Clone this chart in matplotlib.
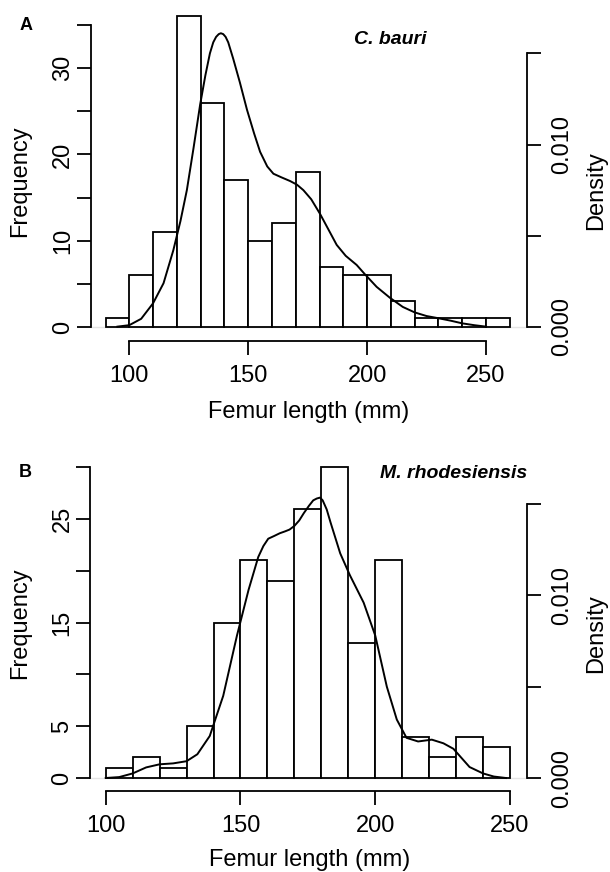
import numpy as np
import matplotlib.pyplot as plt

plt.rcParams['font.family'] = ['Liberation Sans', 'DejaVu Sans']

# histogram data (bin edges in mm, counts)
edges_a = [90, 100, 110, 120, 130, 140, 150, 160, 170, 180, 190, 200, 210, 220, 230, 240, 250, 260]
counts_a = [1, 6, 11, 36, 26, 17, 10, 12, 18, 7, 6, 6, 3, 1, 1, 1, 1]

edges_b = [100, 110, 120, 130, 140, 150, 160, 170, 180, 190, 200, 210, 220, 230, 240, 250]
counts_b = [1, 2, 1, 5, 15, 21, 19, 26, 30, 13, 21, 4, 2, 4, 3]

# kernel density curves
dens_x_a = [95, 100, 105, 110, 114.4, 118.5, 121.5, 124.2, 127, 129.8, 132, 133.9, 135.3, 136.5,
            137.6, 138.5, 139.5, 140.5, 141.6, 143.7, 146.5, 149.5, 152.5, 155, 158, 160.6, 164,
            167.6, 170.5, 173.2, 176.5, 180.2, 183.5, 187.2, 191, 195.6, 199, 204, 209.6, 215,
            220, 225, 230, 235, 240, 245, 250]
dens_y_a = [0.00002, 0.0001, 0.00045, 0.0013, 0.0024, 0.0042, 0.0058, 0.0075, 0.0098, 0.0122,
            0.0138, 0.0150, 0.0156, 0.0159, 0.01605, 0.0161, 0.01605, 0.0159, 0.0156, 0.0147,
            0.0134, 0.0119, 0.0106, 0.0096, 0.0088, 0.0084, 0.0082, 0.0080, 0.0078, 0.0075,
            0.0070, 0.0062, 0.0054, 0.0045, 0.0039, 0.0034, 0.0029, 0.0022, 0.0016, 0.0011,
            0.0008, 0.0006, 0.00048, 0.00035, 0.0002, 0.0001, 0.00002]

dens_x_b = [100, 105, 110, 115, 120, 125, 130, 134, 138.6, 143.6, 148.7, 153, 156.6, 158.5, 160.3,
            162.5, 164.6, 166.5, 168.2, 170, 171.8, 173.5, 175.4, 177, 178.3, 179.5, 180.5, 182,
            183.4, 187, 190.6, 195.7, 200, 204.3, 208, 211.6, 215.9, 221, 225.3, 229, 232, 235,
            240, 244, 248.5]
dens_y_b = [0.0, 0.00005, 0.00025, 0.00058, 0.00075, 0.0008, 0.00092, 0.0013, 0.0023, 0.0045,
            0.0078, 0.0103, 0.0121, 0.0127, 0.0131, 0.01325, 0.0134, 0.0135, 0.0136, 0.0138,
            0.0141, 0.0145, 0.0149, 0.0152, 0.0153, 0.01535, 0.0152, 0.0147, 0.0140, 0.0123,
            0.0111, 0.0096, 0.0078, 0.0050, 0.0032, 0.0022, 0.0020, 0.0021, 0.0019, 0.0016,
            0.0011, 0.0006, 0.00025, 0.00008, 0.0]

xticks = [100, 150, 200, 250]
dticks = [0, 0.005, 0.010, 0.015]
dlabels = ['0.000', '', '0.010', '']

W, H = 610, 872
fig = plt.figure(figsize=(W / 100, H / 100), dpi=100)


def box(l, r, b, t):
    return [l / W, 1 - b / H, (r - l) / W, (b - t) / H]


def panel(rect, xlim, ylim, dlim, edges, counts, dx, dy, yticks, ylabels):
    ax = fig.add_axes(rect)
    ax.axhline(0, color='#e4e4e4', lw=1, zorder=0)
    ax.bar(edges[:-1], counts, width=np.diff(edges), align='edge',
           facecolor='white', edgecolor='black', linewidth=1.3)
    ax.set_xlim(xlim)
    ax.set_ylim(ylim)
    ax.set_xticks(xticks)
    ax.set_yticks(yticks)
    ax.set_yticklabels(ylabels)
    ax.spines[['top', 'right']].set_visible(False)
    ax.spines['left'].set_bounds(yticks[0], yticks[-1])
    ax.spines['bottom'].set_bounds(100, 250)
    for s in ['left', 'bottom']:
        ax.spines[s].set_linewidth(1.3)
    ax.tick_params(length=10.4, width=1.3, labelsize=17)
    ax.tick_params(axis='x', pad=7)
    ax.tick_params(axis='y', labelrotation=90, pad=1.5)
    for lab in ax.get_yticklabels():
        lab.set_va('center')

    # density curve on its own scale, right-hand axis
    ax2 = ax.twinx()
    ax2.plot(dx, dy, color='black', lw=1.4, solid_joinstyle='round')
    ax2.set_ylim(dlim)
    ax2.set_yticks(dticks)
    ax2.set_yticklabels(dlabels)
    ax2.spines[['top', 'left', 'bottom']].set_visible(False)
    ax2.spines['right'].set_bounds(0, 0.015)
    ax2.spines['right'].set_linewidth(1.3)
    ax2.tick_params(length=10.4, width=1.3, labelsize=17, labelrotation=90, pad=7)
    for lab in ax2.get_yticklabels():
        lab.set_va('center')
    return ax


panel(box(90.7, 526.7, 340.7, 14), (83.77, 267.1), (-1.587, 36.27), (-0.000751, 0.017154),
      edges_a, counts_a, dens_x_a, dens_y_a,
      [0, 5, 10, 15, 20, 25, 30, 35], ['0', '', '10', '', '20', '', '30', ''])
panel(box(90, 527.3, 790.7, 460), (94.17, 256.42), (-1.226, 30.70), (-0.000695, 0.017409),
      edges_b, counts_b, dens_x_b, dens_y_b,
      [0, 5, 10, 15, 20, 25, 30], ['0', '5', '', '15', '', '25', ''])


def txt(x, y, s, **kw):
    fig.text(x / W, 1 - y / H, s, ha='center', va='center', **kw)


txt(26.5, 25, 'A', fontsize=13, fontweight='bold')
txt(25, 472, 'B', fontsize=13, fontweight='bold')
txt(390, 40, 'C. bauri', fontsize=14, fontweight='bold', fontstyle='italic')
txt(454, 473, 'M. rhodesiensis', fontsize=14, fontweight='bold', fontstyle='italic')
txt(309, 412, 'Femur length (mm)', fontsize=17)
txt(310, 860, 'Femur length (mm)', fontsize=17)
txt(20.5, 181, 'Frequency', fontsize=17, rotation=90)
txt(20.5, 623, 'Frequency', fontsize=17, rotation=90)
txt(596, 191, 'Density', fontsize=17, rotation=90)
txt(596, 634, 'Density', fontsize=17, rotation=90)

fig.savefig('out.png', dpi=100)
